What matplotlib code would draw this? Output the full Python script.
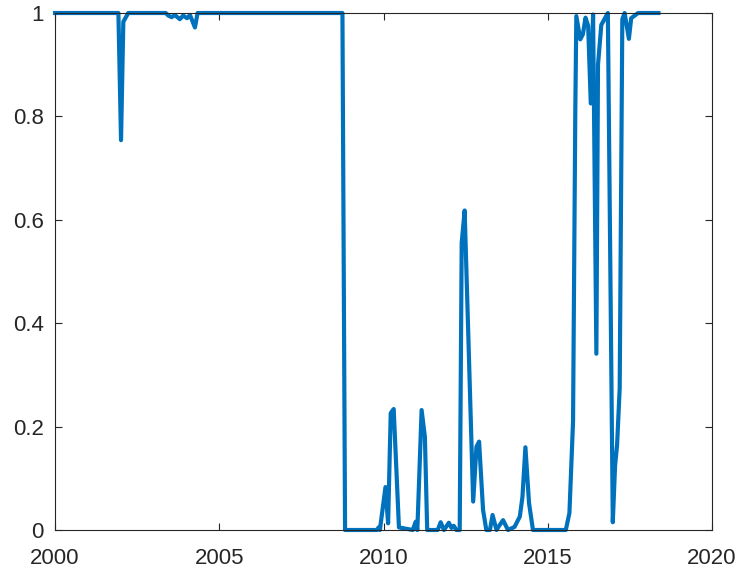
import numpy as np
import matplotlib
matplotlib.use("Agg")
import matplotlib.pyplot as plt

# values (year, probability-like series)
years = [2000.0, 2001.93, 2002.01, 2002.08, 2002.23, 2003.37, 2003.45, 2003.55,
         2003.65, 2003.80, 2003.90, 2004.02, 2004.11, 2004.26, 2004.34, 2008.75,
         2008.83, 2009.80, 2009.85, 2009.89, 2010.06, 2010.14, 2010.22, 2010.31,
         2010.47, 2010.89, 2010.98, 2011.03, 2011.16, 2011.26, 2011.33, 2011.65,
         2011.74, 2011.84, 2011.99, 2012.07, 2012.14, 2012.22, 2012.32, 2012.38,
         2012.47, 2012.73, 2012.83, 2012.91, 2013.03, 2013.13, 2013.24, 2013.32,
         2013.44, 2013.52, 2013.64, 2013.79, 2013.99, 2014.15, 2014.23, 2014.32,
         2014.43, 2014.55, 2015.55, 2015.66, 2015.77, 2015.84, 2015.87, 2015.99,
         2016.07, 2016.15, 2016.23, 2016.31, 2016.38, 2016.48, 2016.53, 2016.63,
         2016.83, 2016.98, 2017.05, 2017.11, 2017.19, 2017.27, 2017.34, 2017.47,
         2017.54, 2017.75, 2018.37]
values = [1.0, 1.0, 0.754, 0.983, 1.0, 1.0, 0.995, 0.992,
          0.996, 0.988, 0.995, 0.99, 0.996, 0.972, 1.0, 1.0,
          0.0, 0.0, 0.005, 0.0, 0.083, 0.013, 0.226, 0.234,
          0.005, 0.0, 0.016, 0.0, 0.232, 0.18, 0.0, 0.0,
          0.015, 0.0, 0.014, 0.004, 0.008, 0.0, 0.0, 0.555,
          0.618, 0.055, 0.161, 0.171, 0.039, 0.0, 0.0, 0.029,
          0.0, 0.008, 0.019, 0.0, 0.006, 0.026, 0.064, 0.16,
          0.052, 0.0, 0.0, 0.033, 0.21, 0.82, 0.994, 0.949,
          0.959, 0.991, 0.975, 0.825, 0.997, 0.341, 0.90, 0.977,
          1.0, 0.015, 0.125, 0.164, 0.274, 0.988, 1.0, 0.95,
          0.99, 1.0, 1.0]

xticks = [2000, 2005, 2010, 2015, 2020]
yticks = [0, 0.2, 0.4, 0.6, 0.8, 1]
ytick_labels = ['0', '0.2', '0.4', '0.6', '0.8', '1']

plt.rcParams['font.family'] = ['Liberation Sans', 'DejaVu Sans']
txt_col = '#262626'

fig = plt.figure(figsize=(7.39, 5.74), dpi=100)
ax = fig.add_axes([55/739, 1-530/574, (712-55)/739, (530-13)/574])

ax.plot(years, values, color='#0072BD', linewidth=3.0, clip_on=False,
        solid_joinstyle='round')

ax.set_xlim(2000, 2020)
ax.set_ylim(0, 1)
ax.set_xticks(xticks)
ax.set_yticks(yticks)
ax.set_yticklabels(ytick_labels)

for s in ax.spines.values():
    s.set_color(txt_col)
    s.set_linewidth(0.8)
ax.tick_params(direction='in', length=5, width=0.8, colors=txt_col,
               labelsize=16, top=True, right=True)
ax.tick_params(axis='y', pad=8)
ax.tick_params(axis='x', pad=13)

fig.savefig('out.png', dpi=100)
